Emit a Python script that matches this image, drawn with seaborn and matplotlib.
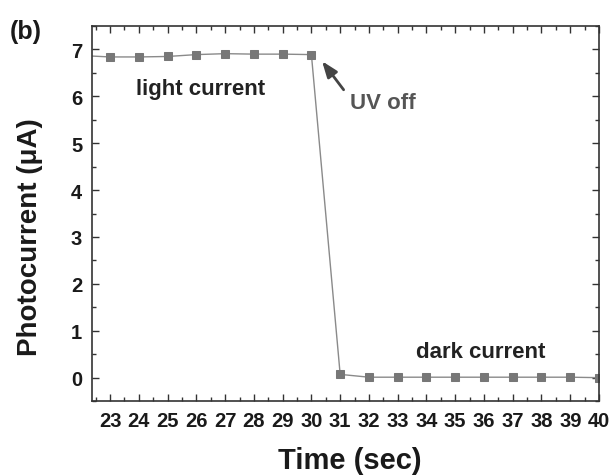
import matplotlib
matplotlib.use('Agg')
from matplotlib import pyplot as plt
import matplotlib.ticker as mtick
import pandas as pd
import seaborn as sns

# Valores
time_sec = [22, 23, 24, 25, 26, 27, 28, 29, 30, 31, 32, 33, 34, 35, 36, 37, 38, 39, 40]
photocurrent = [6.87, 6.84, 6.84, 6.85, 6.89, 6.91, 6.90, 6.90, 6.89,
                0.07, 0.01, 0.01, 0.01, 0.01, 0.01, 0.01, 0.01, 0.01, 0.0]
x_ticks = list(range(23, 41))
y_ticks = list(range(0, 8))

df = pd.DataFrame({'time': time_sec, 'current': photocurrent})

sns.set_theme(style='ticks')
plt.rcParams['font.family'] = ['Liberation Sans', 'DejaVu Sans']
plt.rcParams['font.weight'] = 'bold'

fig = plt.figure(figsize=(6.09, 4.77), dpi=100)
ax = fig.add_axes([0.151, 0.157, 0.8326, 0.7864])

sns.lineplot(data=df, x='time', y='current', ax=ax, color='#8a8a8a', linewidth=1.0,
             marker='s', markersize=6, markerfacecolor='#777777', markeredgecolor='#777777')

ax.set_xlim(22.37, 40)
ax.set_ylim(-0.5, 7.5)
ax.set_xticks(x_ticks)
ax.set_yticks(y_ticks)
ax.xaxis.set_minor_locator(mtick.MultipleLocator(0.5))
ax.yaxis.set_minor_locator(mtick.MultipleLocator(0.5))
ax.tick_params(which='both', direction='in', top=True, right=True, colors='#333333',
               labelcolor='#1a1a1a', width=1.0)
ax.tick_params(which='major', length=5, labelsize=14.5)
ax.tick_params(which='minor', length=3)
ax.tick_params(axis='x', which='major', pad=7)
ax.tick_params(axis='y', which='major', pad=7)
for lbl in ax.get_xticklabels() + ax.get_yticklabels():
    lbl.set_fontweight('bold')
for sp in ax.spines.values():
    sp.set_color('#333333')
    sp.set_linewidth(1.2)

ax.set_xlabel('Time (sec)', fontsize=21, fontweight='bold', color='#1a1a1a')
ax.set_ylabel('Photocurrent (μA)', fontsize=20, fontweight='bold', color='#1a1a1a')
ax.xaxis.set_label_coords(0.508, -0.12)
ax.yaxis.set_label_coords(-0.097, 0.44)

ax.text(23.9, 6.05, 'light current', fontsize=16, fontweight='bold', color='#222222')
ax.text(33.62, 0.45, 'dark current', fontsize=16, fontweight='bold', color='#222222')
ax.text(31.35, 5.75, 'UV off', fontsize=16, fontweight='bold', color='#555555')
ax.annotate('', xy=(30.37, 6.75), xytext=(31.12, 6.14),
            arrowprops=dict(arrowstyle='-|>,head_length=0.8,head_width=0.3', color='#444444',
                            lw=2, shrinkA=0, shrinkB=0))
fig.text(0.016, 0.918, '(b)', fontsize=18, fontweight='bold', color='#1a1a1a')

plt.savefig('out.png', dpi=100)
